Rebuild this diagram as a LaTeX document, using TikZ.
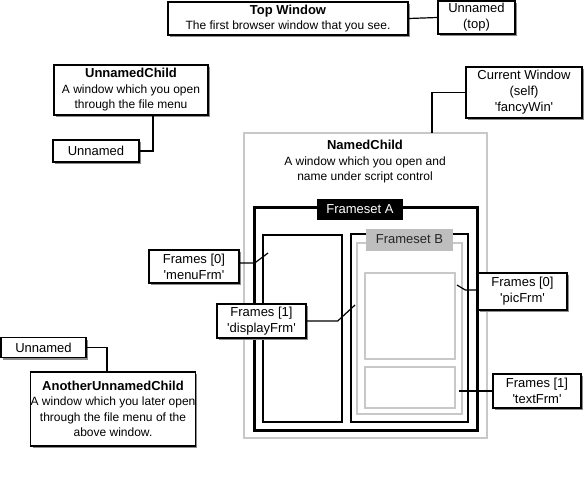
\documentclass[tikz,border=0pt]{standalone}
\usepackage{fontspec}
\setmainfont{Liberation Sans}
\usetikzlibrary{shadows}
\definecolor{lgray}{HTML}{C8C8C8}
\definecolor{mgray}{HTML}{BEBEBE}
\newcommand{\qq}{\textquotesingle}
\newcommand{\ttl}[1]{{\fontsize{13}{15.5}\selectfont\bfseries #1}}
\begin{document}
\begin{tikzpicture}[x=1pt,y=-1pt,
  txt/.style={font=\fontsize{12}{15.5}\selectfont, align=center, inner sep=0pt},
  small/.style={font=\fontsize{13}{16}\selectfont},
  lbl/.style={txt, draw=black, line width=1.4pt, fill=white,
    drop shadow={shadow xshift=2pt, shadow yshift=-2pt, fill=black!45, opacity=1}},
  win/.style={draw=lgray, line width=2pt, inner sep=0pt},
  fset/.style={draw=black, line width=2pt, inner sep=0pt},
  pane/.style={draw=lgray, line width=1.5pt, inner sep=0pt},
  conn/.style={draw=black, line width=1.2pt}]
\useasboundingbox (0,0) rectangle (585,503);

% labelled boxes
\node[lbl, minimum width=240pt, minimum height=33pt] (top) at (288,18.5) {\ttl{Top Window}\\The first browser window that you see.};
\node[lbl, small, minimum width=77pt, minimum height=33pt] (untop) at (476.5,17.5) {Unnamed\\(top)};
\node[lbl, small, minimum width=116pt, minimum height=51pt] (cur) at (524,92.5) {Current Window\\(self)\\\qq fancyWin\qq};
\node[lbl, minimum width=154pt, minimum height=50pt] (uchild) at (131,90) {\ttl{UnnamedChild}\\A window which you open\\through the file menu};
\node[lbl, small, minimum width=86pt, minimum height=22pt] (un1) at (96,151) {Unnamed};
\node[lbl, small, minimum width=85pt, minimum height=20pt] (un2) at (43.5,347.5) {Unnamed};
\node[lbl, minimum width=164pt, minimum height=74pt] (auc) at (113,409) {\ttl{AnotherUnnamedChild}\\A window which you later open\\through the file menu of the\\above window.};

% named child window and framesets
\node[win, minimum width=243pt, minimum height=305pt] (named) at (365.5,285.5) {};
\node[txt] (namedtxt) at (365,162) {\ttl{NamedChild}\\A window which you open and\\name under script control};
\node[fset, line width=3pt, minimum width=223pt, minimum height=223pt] (fsA) at (365.5,318.5) {};
\node[fset, minimum width=79pt, minimum height=187pt] (left) at (302.5,328.5) {};
\node[fset, minimum width=117pt, minimum height=188pt] (right) at (409.5,328) {};
\node[pane, minimum width=105pt, minimum height=171pt] (fsBin) at (409.5,328.5) {};
\node[pane, minimum width=90pt, minimum height=86pt] (picpane) at (410,316) {};
\node[pane, minimum width=90pt, minimum height=41pt] (txtpane) at (410,387.5) {};
\node[txt, small, fill=black, text=white, minimum width=86pt, minimum height=21pt] (labA) at (360,209.5) {Frameset A};
\node[txt, small, fill=mgray, text=black!85, minimum width=87pt, minimum height=22pt] (labB) at (409.5,239.5) {Frameset B};

% frame labels
\node[lbl, small, minimum width=90pt, minimum height=33pt] (menu) at (194,266.5) {Frames [0]\\\qq menuFrm\qq};
\node[lbl, small, minimum width=89pt, minimum height=34pt] (disp) at (261.5,321) {Frames [1]\\\qq displayFrm\qq};
\node[lbl, small, minimum width=89pt, minimum height=37pt] (pic) at (522.5,291.5) {Frames [0]\\\qq picFrm\qq};
\node[lbl, small, minimum width=88pt, minimum height=34pt] (txtf) at (537,391) {Frames [1]\\\qq textFrm\qq};

% connector end points
\coordinate (curend) at (432,133);
\coordinate (menuend) at (268,253);
\coordinate (dispend) at (355,305);
\coordinate (picend) at (457,285);
\coordinate (txtend) at (459,391);

% connectors
\draw[conn] (top.east) -- (untop.west);
\draw[conn] (cur.west) -| (curend);
\draw[conn] ([xshift=22pt]uchild.south) |- (un1.east);
\draw[conn] (un2.east) -| ([xshift=-6pt]auc.north);
\draw[conn] ([yshift=3.5pt]menu.east) -- ++(15,0) -- (menuend);
\draw[conn] (disp.east) -- ++(31,0) -- (dispend);
\draw[conn] ([yshift=1.5pt]pic.west) -- ++(-12,0) -- (picend);
\draw[conn] (txtf.west) -- (txtend);
\end{tikzpicture}
\end{document}
